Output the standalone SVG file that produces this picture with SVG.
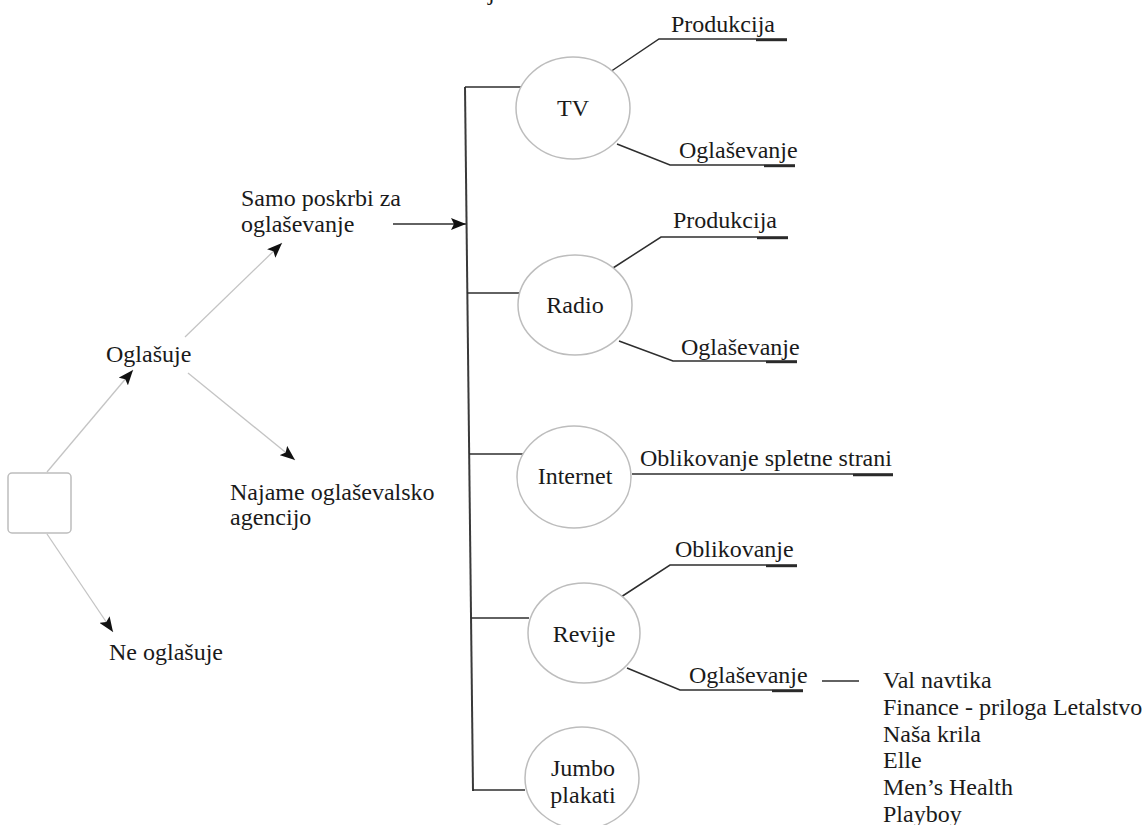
<svg xmlns="http://www.w3.org/2000/svg" width="1146" height="825" viewBox="0 0 1146 825">
  <style>
    .t { font-family: "Liberation Serif", "Times New Roman", serif; font-size: 24px; fill: #1a1a1a; }
    .tc { text-anchor: middle; }
    .node { fill: #ffffff; stroke: #bdbdbd; stroke-width: 1.5; }
    .soft { fill: none; stroke: #c4c4c4; stroke-width: 1.3; }
    .dark { fill: none; stroke: #2e2e2e; stroke-width: 1.5; }
    .bar { fill: none; stroke: #3a3a3a; stroke-width: 2; }
    .thick { fill: none; stroke: #2a2a2a; stroke-width: 2.4; }
  </style>
  <defs>
    <marker id="arrow" markerUnits="userSpaceOnUse" markerWidth="16" markerHeight="12" refX="15" refY="6" orient="auto">
      <path d="M0,0 L15,6 L0,12 L3,6 z" fill="#111"/>
    </marker>
  </defs>
  <rect width="1146" height="825" fill="#ffffff"/>

  <!-- descender of a heading line cut off above the frame -->
  <text class="t" x="488" y="0">j</text>

  <!-- connectors -->
  <g id="connectors">
    <!-- decision tree on the left -->
    <line class="soft" x1="47" y1="472" x2="133" y2="370" marker-end="url(#arrow)"/>
    <line class="soft" x1="185" y1="337" x2="282" y2="243" marker-end="url(#arrow)"/>
    <line class="soft" x1="188" y1="373" x2="295" y2="460" marker-end="url(#arrow)"/>
    <line class="soft" x1="47" y1="534" x2="113" y2="632" marker-end="url(#arrow)"/>
    <line class="dark" x1="393" y1="224" x2="466" y2="224" marker-end="url(#arrow)"/>

    <!-- media bus -->
    <line class="bar" x1="465" y1="87" x2="473" y2="791"/>
    <line class="dark" x1="465" y1="87" x2="521" y2="87"/>
    <line class="dark" x1="467" y1="293" x2="520" y2="293"/>
    <line class="dark" x1="469" y1="454" x2="523" y2="454"/>
    <line class="dark" x1="471" y1="618" x2="529" y2="618"/>
    <line class="dark" x1="473" y1="790" x2="525" y2="790"/>

    <!-- TV leaders -->
    <polyline class="dark" points="610,72 659,39 787,39"/>
    <polyline class="dark" points="617,144 670,165 795,165"/>
    <!-- Radio leaders -->
    <polyline class="dark" points="613,268 661,237 788,237"/>
    <polyline class="dark" points="619,341 673,361 797,361"/>
    <!-- Internet leader -->
    <line class="dark" x1="632" y1="474" x2="893" y2="474"/>
    <!-- Revije leaders -->
    <polyline class="dark" points="621,597 670,565 797,565"/>
    <polyline class="dark" points="627,668 680,690 803,690"/>
    <line class="dark" x1="822" y1="681" x2="859" y2="681"/>

    <!-- heavier ends of the underlines -->
    <line class="thick" x1="756" y1="40" x2="787" y2="40"/>
    <line class="thick" x1="764" y1="166" x2="795" y2="166"/>
    <line class="thick" x1="757" y1="238" x2="788" y2="238"/>
    <line class="thick" x1="766" y1="362" x2="797" y2="362"/>
    <line class="thick" x1="853" y1="475" x2="893" y2="475"/>
    <line class="thick" x1="766" y1="566" x2="797" y2="566"/>
    <line class="thick" x1="772" y1="691" x2="803" y2="691"/>
  </g>

  <!-- decision nodes -->
  <g id="start">
    <rect class="node" x="8" y="473" width="63" height="60" rx="4"/>
  </g>
  <g id="oglasuje">
    <text class="t" x="106" y="362">Oglašuje</text>
  </g>
  <g id="samo">
    <text class="t" x="241" y="206">Samo poskrbi za</text>
    <text class="t" x="241" y="232">oglaševanje</text>
  </g>
  <g id="najame">
    <text class="t" x="230" y="500">Najame oglaševalsko</text>
    <text class="t" x="230" y="525">agencijo</text>
  </g>
  <g id="ne-oglasuje">
    <text class="t" x="109" y="660">Ne oglašuje</text>
  </g>

  <!-- media nodes -->
  <g id="tv">
    <ellipse class="node" cx="573" cy="108" rx="57" ry="51"/>
    <text class="t tc" x="573" y="116">TV</text>
  </g>
  <g id="radio">
    <ellipse class="node" cx="575" cy="305" rx="57" ry="50"/>
    <text class="t tc" x="575" y="313">Radio</text>
  </g>
  <g id="internet">
    <ellipse class="node" cx="574" cy="477" rx="57" ry="51"/>
    <text class="t tc" x="575" y="484">Internet</text>
  </g>
  <g id="revije">
    <ellipse class="node" cx="584" cy="633" rx="56" ry="50"/>
    <text class="t tc" x="584" y="642">Revije</text>
  </g>
  <g id="jumbo">
    <ellipse class="node" cx="582" cy="778" rx="57" ry="51"/>
    <text class="t tc" x="583" y="776">Jumbo</text>
    <text class="t tc" x="583" y="803">plakati</text>
  </g>

  <!-- leaf labels -->
  <g id="tv-produkcija"><text class="t" x="671" y="32">Produkcija</text></g>
  <g id="tv-oglasevanje"><text class="t" x="679" y="158">Oglaševanje</text></g>
  <g id="radio-produkcija"><text class="t" x="673" y="228">Produkcija</text></g>
  <g id="radio-oglasevanje"><text class="t" x="681" y="355">Oglaševanje</text></g>
  <g id="internet-oblikovanje"><text class="t" x="640" y="466">Oblikovanje spletne strani</text></g>
  <g id="revije-oblikovanje"><text class="t" x="675" y="557">Oblikovanje</text></g>
  <g id="revije-oglasevanje"><text class="t" x="689" y="683">Oglaševanje</text></g>
  <g id="revije-seznam">
    <text class="t" x="883" y="688">Val navtika</text>
    <text class="t" x="883" y="715">Finance - priloga Letalstvo</text>
    <text class="t" x="883" y="742">Naša krila</text>
    <text class="t" x="883" y="768">Elle</text>
    <text class="t" x="883" y="795">Men’s Health</text>
    <text class="t" x="883" y="822">Playboy</text>
  </g>
</svg>
